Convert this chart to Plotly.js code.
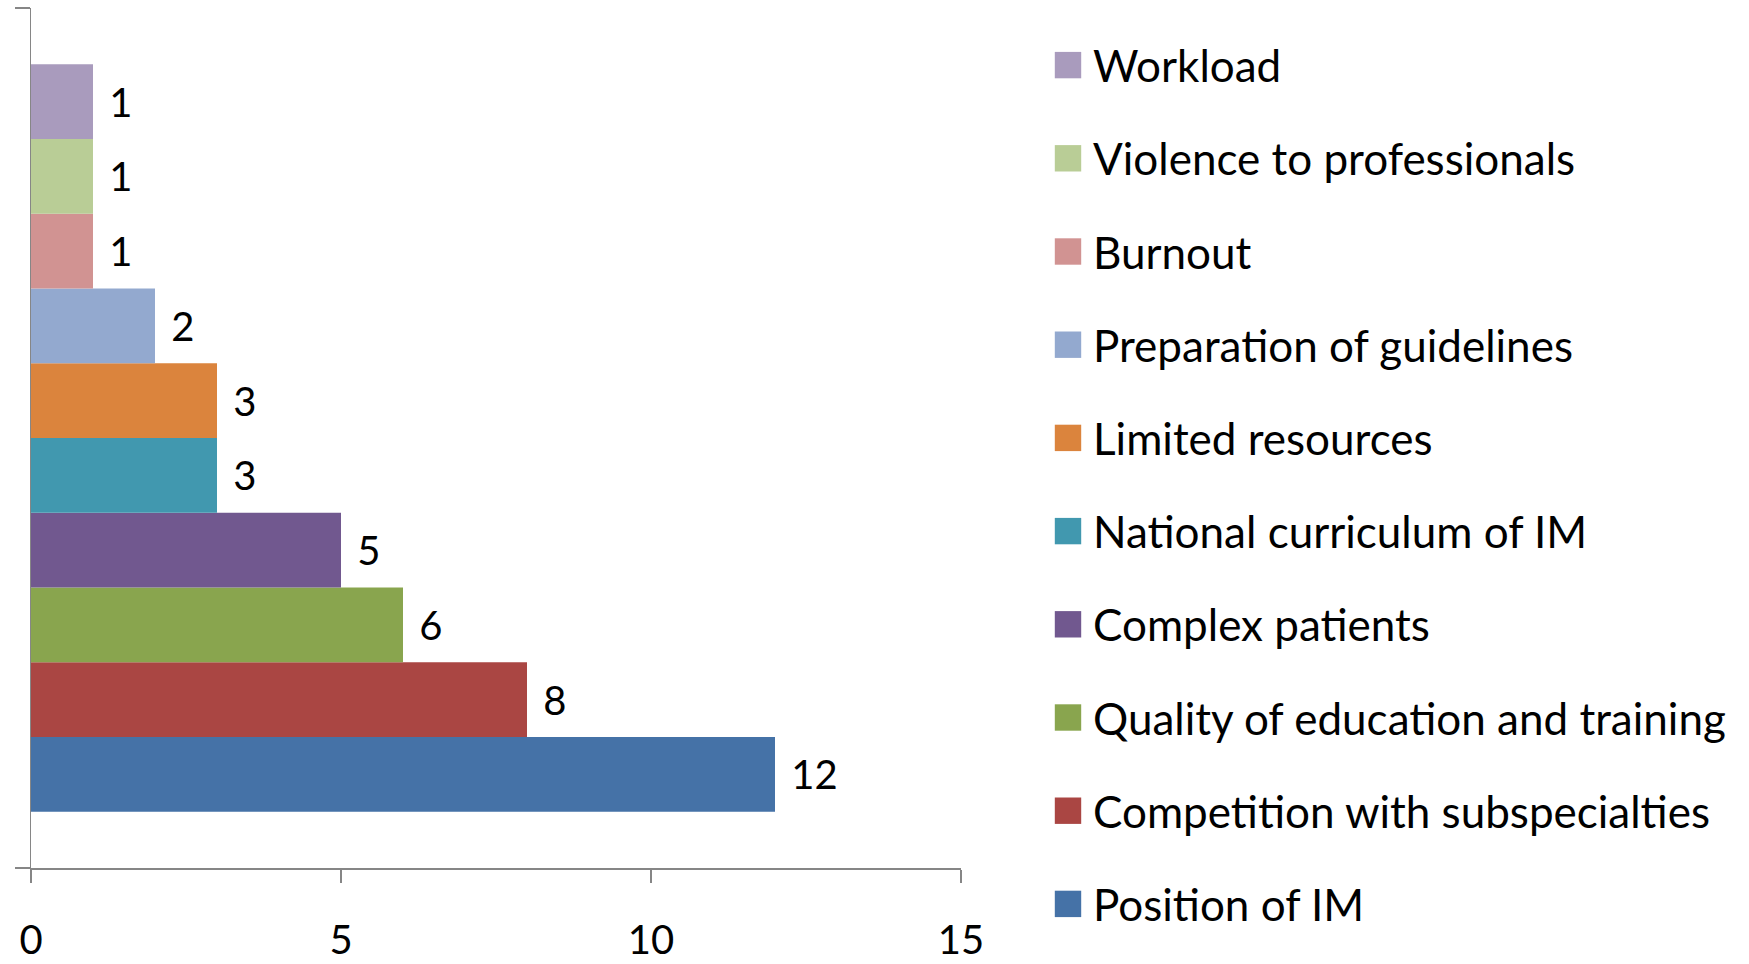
<!DOCTYPE html>
<html>
<head>
<meta charset="utf-8">
<script src="https://cdn.plot.ly/plotly-3.0.1.min.js"></script>
<style>
  html, body { margin: 0; padding: 0; background: #ffffff; }
  #chart { width: 1749px; height: 964px; }
  .legend .legendpoints path { transform: translate(15px, 0px) scale(2.2); }
</style>
</head>
<body>
<div id="chart"></div>
<script>
// Categories (bottom to top in the bar group)
const categories = [
  'Position of IM',
  'Competition with subspecialties',
  'Quality of education and training',
  'Complex patients',
  'National curriculum of IM',
  'Limited resources',
  'Preparation of guidelines',
  'Burnout',
  'Violence to professionals',
  'Workload'
];
const values = [12, 8, 6, 5, 3, 3, 2, 1, 1, 1];
const colors = [
  '#4572A7', '#AA4643', '#89A54E', '#71588F', '#4198AF',
  '#DB843D', '#93A9CF', '#D19392', '#B9CD96', '#A99BBD'
];
const groupLabel = ['Challenges'];
const xTickVals = [0, 5, 10, 15];
const xTickText = ['0', '5', '10', '15'];

const FONT = 'Lato, "Open Sans", "Liberation Sans", sans-serif';

const traces = categories.map((name, i) => ({
  type: 'bar',
  orientation: 'h',
  name: name,
  legendgroup: 'g' + i,
  legendrank: categories.length - i,
  x: [values[i]],
  y: groupLabel,
  marker: { color: colors[i], line: { width: 0 } },
  text: [String(values[i])],
  texttemplate: '\u2004%{text}',
  textposition: 'outside',
  cliponaxis: false,
  outsidetextfont: { family: FONT, size: 40, color: '#000000' },
  hoverinfo: 'x+name'
}));

const layout = {
  width: 1749,
  height: 964,
  paper_bgcolor: '#ffffff',
  plot_bgcolor: '#ffffff',
  margin: { l: 31, r: 788, t: 8, b: 96, pad: 0 },
  barmode: 'group',
  bargap: 0.131,
  bargroupgap: 0,
  font: { family: FONT, size: 40, color: '#000000' },
  xaxis: {
    range: [0, 15],
    tickvals: xTickVals,
    ticktext: xTickText,
    showgrid: false,
    zeroline: false,
    showline: true,
    linecolor: '#868686',
    linewidth: 1.5,
    ticks: 'outside',
    ticklen: 13,
    tickwidth: 1.5,
    tickcolor: '#868686',
    tickfont: { family: FONT, size: 40, color: '#000000' },
    ticklabelstandoff: 23
  },
  yaxis: {
    type: 'category',
    showticklabels: false,
    showgrid: false,
    zeroline: false,
    showline: true,
    linecolor: '#868686',
    linewidth: 1.5,
    ticks: 'outside',
    tickson: 'boundaries',
    ticklen: 15,
    tickwidth: 1.5,
    tickcolor: '#868686'
  },
  legend: {
    traceorder: 'grouped',
    tracegroupgap: 33,
    xref: 'container',
    yref: 'container',
    x: 1053 / 1749,
    xanchor: 'left',
    y: 1 - 30 / 964,
    yanchor: 'top',
    maxheight: 960,
    font: { family: FONT, size: 44, color: '#000000' },
    bgcolor: 'rgba(0,0,0,0)',
    borderwidth: 0
  },
  showlegend: true
};

Plotly.newPlot('chart', traces, layout, { displayModeBar: false, staticPlot: true });
</script>
</body>
</html>
